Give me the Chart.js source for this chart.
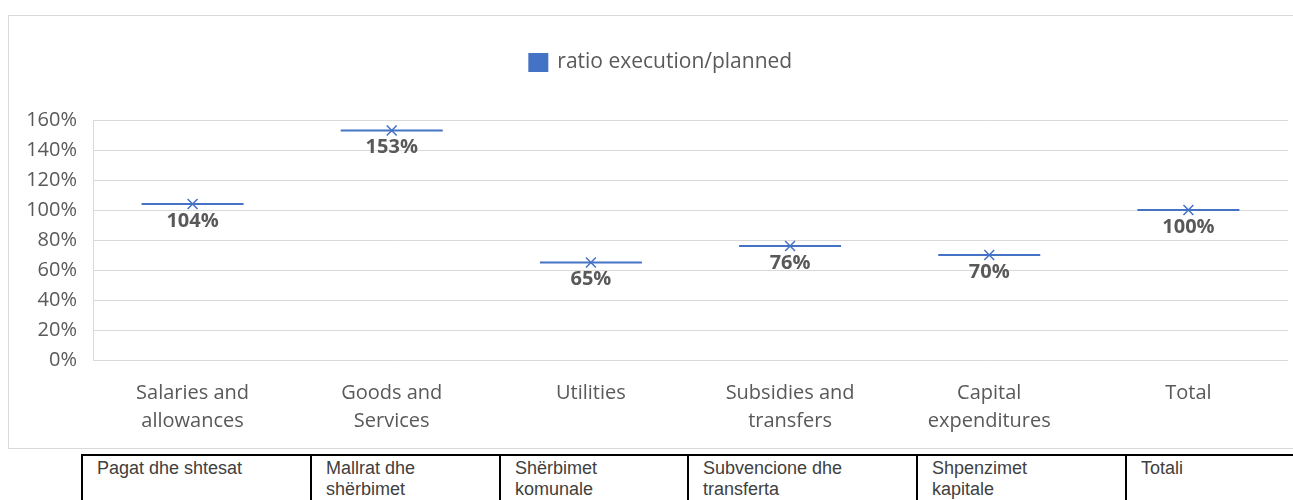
<!DOCTYPE html>
<html>
<head>
<meta charset="utf-8">
<script src="https://cdn.jsdelivr.net/npm/chart.js@4.4.1/dist/chart.umd.min.js"></script>
<style>
  body { margin:0; width:1293px; height:500px; overflow:hidden; background:#fff; position:relative; }
  #frame { position:absolute; left:8px; top:15px; width:1300px; height:432px; border:1px solid #d9d9d9; }
  #wrap { position:absolute; left:0; top:0; width:1293px; height:450px; }
  #names { position:absolute; left:81px; top:454px; border-collapse:collapse; table-layout:fixed; font-family:"Liberation Sans", Arial, sans-serif; font-size:18px; line-height:21px; color:#404040; }
  #names td { border:2px solid #000; vertical-align:top; padding:2px 40px 30px 14px; overflow:hidden; }
</style>
</head>
<body>
<div id="frame"></div>
<div id="wrap"><canvas id="ratio_chart" width="1293" height="450"></canvas></div>
<table id="names"><colgroup id="names_cols"></colgroup><tr id="names_row"></tr></table>
<script>
const categories = [["Salaries and","allowances"],["Goods and","Services"],["Utilities"],["Subsidies and","transfers"],["Capital","expenditures"],["Total"]]
const ratio_values = [104, 153, 65, 76, 70, 100]
const y_ticks = [0, 20, 40, 60, 80, 100, 120, 140, 160]
const albanian_names = ["Pagat dhe shtesat","Mallrat dhe shërbimet","Shërbimet komunale","Subvencione dhe transferta","Shpenzimet kapitale","Totali"]
const col_widths = [229, 189, 188, 229, 209, 230]

const blue = "#4472C4"
const grey_text = "#595959"
const grid = "#d9d9d9"

function makeTable(names, widths, id){
  const row = document.getElementById(id)
  const cols = document.getElementById("names_cols")
  let total = 0
  names.forEach((n, i) => {
    const col = document.createElement("col")
    col.style.width = widths[i] + "px"
    cols.appendChild(col)
    total += widths[i]
    const td = document.createElement("td")
    td.textContent = n
    row.appendChild(td)
  })
  document.getElementById("names").style.width = total + "px"
}

// chart.js has no room option between legend and plot, so stretch the legend box
// and nudge it right so it is centred on the frame like the original
const legendGap = {
  id: "legendGap",
  afterInit(chart){
    const fit = chart.legend.fit
    chart.legend.fit = function(){ fit.call(this); this.height += 37 }
  },
  afterLayout(chart){
    chart.legend.left += 34
  }
}

const valueLabels = {
  id: "valueLabels",
  afterDatasetsDraw(chart){
    const ctx = chart.ctx
    const meta = chart.getDatasetMeta(0)
    ctx.save()
    ctx.font = "bold 20px 'Open Sans'"
    ctx.fillStyle = grey_text
    ctx.textAlign = "center"
    ctx.textBaseline = "middle"
    meta.data.forEach((pt, i) => {
      ctx.fillText(ratio_values[i] + "%", pt.x, pt.y + 17)
    })
    ctx.restore()
  }
}

function drawRatio(id){
  const element = document.getElementById(id)
  return new Chart(element, {
    type: "line",
    data: {
      labels: categories,
      datasets: [
        {label: "ratio execution/planned", data: ratio_values, showLine: false,
         pointStyle: "line", pointRadius: 51, pointBorderWidth: 2,
         borderColor: blue, backgroundColor: blue},
        {label: "cross", data: ratio_values, showLine: false,
         pointStyle: "crossRot", pointRadius: 7, pointBorderWidth: 1.5,
         borderColor: blue, backgroundColor: blue}
      ]
    },
    options: {
      responsive: false,
      animation: false,
      layout: {autoPadding: false, padding: {top: 42, left: 0, right: 5, bottom: 0}},
      plugins: {
        tooltip: {enabled: false},
        legend: {
          position: "top",
          labels: {
            filter: item => item.datasetIndex === 0,
            boxWidth: 17, boxHeight: 16, padding: 10,
            color: grey_text, font: {family: "Open Sans", size: 21}
          }
        }
      },
      scales: {
        x: {
          offset: true,
          grid: {display: false, drawTicks: false},
          border: {display: false},
          afterFit: s => { s.height = 90; s.paddingLeft = 0; s.paddingRight = 0 },
          ticks: {color: grey_text, padding: 19, maxRotation: 0, autoSkip: false,
                  font: {family: "Open Sans", size: 20, lineHeight: 1.4}}
        },
        y: {
          min: 0, max: 160,
          afterFit: s => { s.width = 93 },
          afterBuildTicks: s => { s.ticks = y_ticks.map(v => ({value: v})) },
          grid: {color: grid, drawTicks: false},
          border: {display: true, color: grid},
          ticks: {color: grey_text, padding: 16, callback: v => v + "%",
                  font: {family: "Open Sans", size: 20}}
        }
      }
    },
    plugins: [legendGap, valueLabels]
  })
}

makeTable(albanian_names, col_widths, "names_row")
drawRatio("ratio_chart")
</script>
</body>
</html>
